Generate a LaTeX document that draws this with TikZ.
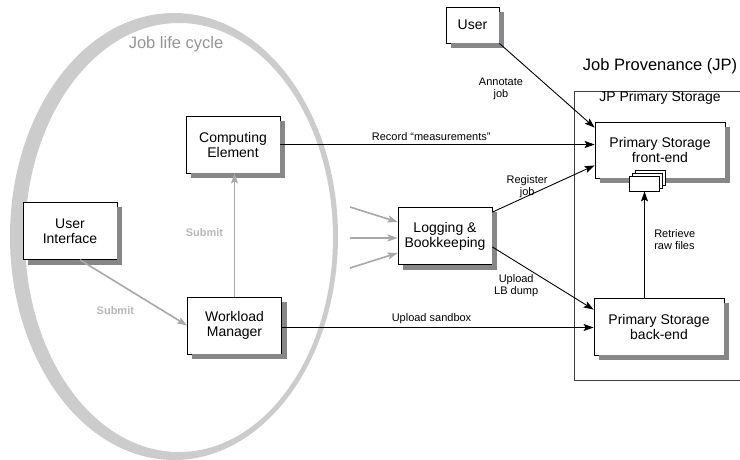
\documentclass[tikz,border=0pt]{standalone}
\usepackage{fontspec}
\setmainfont{Liberation Sans}
\usetikzlibrary{shadows,arrows.meta}

\definecolor{ringgray}{gray}{0.80}
\definecolor{flowgray}{gray}{0.66}
\definecolor{textgray}{gray}{0.72}
\definecolor{boxshadegray}{rgb}{0.53,0.53,0.54}
\definecolor{framegray}{gray}{0.25}

\tikzstyle{block} = [
        draw,
        fill=white,
        rectangle,
        line width=0.8pt,
        align=center,
        font=\fontsize{14}{15}\selectfont,
        minimum height=57pt,
        minimum width=94pt
    ]
\tikzstyle{boxshade} = [
        draw=boxshadegray,
        line width=5pt,
        line cap=butt,
        line join=miter
    ]
\tikzstyle{lbl} = [font=\fontsize{11}{12}\selectfont, align=center]
\tikzstyle{glbl} = [font=\bfseries\fontsize{11}{12}\selectfont, text=textgray]
\tikzstyle{flow} = [->, line width=0.9pt]
\tikzstyle{gflow} = [->, line width=1.6pt, draw=flowgray]

\begin{document}
\begin{tikzpicture}[x=1pt, y=-1pt,
        >={Stealth[length=10pt, width=7pt, inset=2pt]}]
        \useasboundingbox (0,0) rectangle (740,460);
        % job life cycle ring
        \fill[ringgray, even odd rule]
            (174,236.5) ellipse [x radius=164, y radius=223.5]
            (179,237.5) ellipse [x radius=154, y radius=214.5];
        \node(life) [text=black!42, font=\fontsize{16.5}{18}\selectfont]
            at (176,44) {Job life cycle};
        % job provenance frame
        \node(jp) [font=\fontsize{16.5}{18}\selectfont] at (660,66)
            {Job Provenance (JP)};
        \draw[framegray, line width=0.8pt] (740,91) -| (574,380) -- (740,380);
        \node(jpps) [font=\fontsize{14}{15}\selectfont] at (660,98)
            {JP Primary Storage};
        \node(ce) [block] at (233,144.5) {Computing\\Element};
        \node(ui) [block] at (70,231) {User\\Interface};
        \node(wm) [block] at (234.5,325.5) {Workload\\Manager};
        \node(lb) [block] at (445,236) {Logging \&\\Bookkeeping};
        \node(user) [block, minimum width=53pt, minimum height=36pt]
            at (472.5,25) {User};
        \node(fe) [block, minimum width=130pt, minimum height=56pt]
            at (660,150) {Primary Storage\\front-end};
        \node(be) [block, minimum width=130pt, minimum height=57pt]
            at (659,326.5) {Primary Storage\\back-end};
        % shadow strips along right and bottom edges
        \foreach \bx in {ce,ui,wm,lb,user,fe,be}
            \draw[boxshade] ([shift={(2.5pt,-5pt)}]\bx.north east)
                -- ([shift={(2.5pt,-2.5pt)}]\bx.south east)
                -- ([shift={(5pt,-2.5pt)}]\bx.south west);
        \node(raw) [draw, fill=white, line width=0.8pt, inner sep=0pt,
            minimum width=30pt, minimum height=15pt,
            double copy shadow={shadow xshift=3pt, shadow yshift=3pt,
                draw, fill=white}]
            at (644.5,183.5) {};
        \coordinate(src1) at (350,207);
        \coordinate(src2) at (350,238);
        \coordinate(src3) at (350,268);
        \draw[flow] (user.south east) --
            node[lbl, pos=0.5, xshift=-46pt, yshift=-3pt] {Annotate\\job}
            ([yshift=-6pt]fe.north west);
        \draw[flow] (ce.east) --
            node[lbl, above, pos=0.48] {Record “measurements”}
            (ce.east -| fe.west);
        \draw[flow] ([yshift=-5pt]lb.north east) --
            node[lbl, pos=0.34, yshift=10pt] {Register\\job}
            ([yshift=13pt]fe.south west);
        \draw[flow] ([yshift=-11pt]lb.east) --
            node[lbl, pos=0.235, yshift=-24pt] {Upload\\LB dump}
            ([yshift=-12pt]be.north west);
        \draw[flow] ([yshift=-2pt]wm.east) --
            node[lbl, above, pos=0.48] {Upload sandbox}
            ([yshift=-2pt]wm.east -| be.west);
        \draw[flow] (raw.south |- be.north) --
            node[lbl, right=6pt, pos=0.55, align=left] {Retrieve\\raw files}
            (raw.south);
        \draw[gflow] ([xshift=10pt]ui.south) --
            node[glbl, pos=0.33, yshift=-29pt] {Submit} (wm.west);
        \draw[gflow] (wm.north) --
            node[glbl, pos=0.52, xshift=-30pt] {Submit} (wm.north |- ce.south);
        \draw[gflow] (src1) -- ([yshift=14pt]lb.west);
        \draw[gflow] (src2) -- ([yshift=-2pt]lb.west);
        \draw[gflow] (src3) -- ([yshift=-17pt]lb.west);
    \end{tikzpicture}
\end{document}
